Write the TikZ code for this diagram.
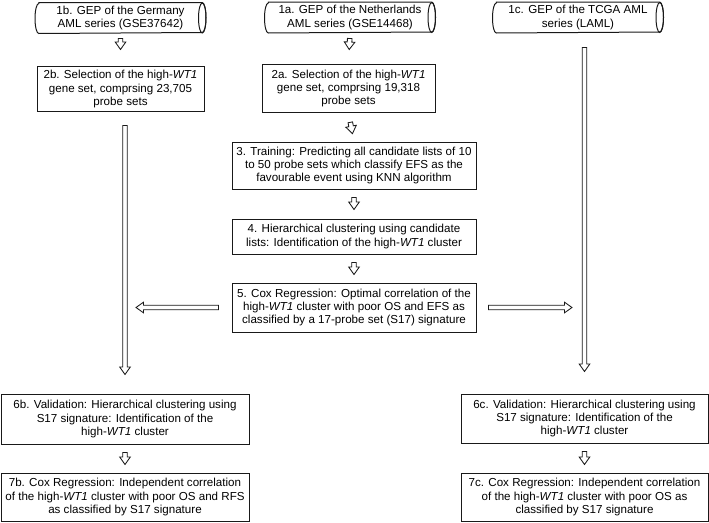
\documentclass[tikz,border=0pt]{standalone}
\usepackage{fontspec}
\setmainfont{Liberation Sans}
\usetikzlibrary{shapes.geometric,calc,positioning}

\begin{document}
\begin{tikzpicture}[
    x=1pt, y=-1pt,
    box/.style={rectangle, draw=black!90, line width=1pt, align=center, inner sep=2pt,
        font=\fontsize{11.6}{13.3}\selectfont},
    db/.style={box, draw=none, minimum width=170pt, minimum height=30pt},
    dbline/.style={draw=black!90, line width=1pt},
    hollow/.style 2 args={draw=black!90, line width=0.85pt, to path={
        let \p1=($(\tikztostart)!#1!(\tikztotarget)$),
            \p2=($(\tikztotarget)!#2!(\tikztostart)$),
            \p3=($(\p2)!7.5pt!(\p1)$) in
        ($(\p1)!2.3pt!90:(\p2)$) -- ($(\p3)!2.3pt!90:(\p2)$) -- ($(\p3)!5.3pt!90:(\p2)$)
        -- (\p2) -- ($(\p3)!5.3pt!-90:(\p2)$) -- ($(\p3)!2.3pt!-90:(\p2)$)
        -- ($(\p1)!2.3pt!-90:(\p2)$) -- cycle}},
    node distance=71pt
]
    \useasboundingbox (0,0) rectangle (709,522);

    % Data sets
    \node[db] (g1b) at (120.5,18) {1b. GEP of the Germany\\AML series (GSE37642)};
    \node[db] (g1a) at (350,17.5) {1a. GEP of the Netherlands\\AML series (GSE14468)};
    \node[db] (g1c) at (578,17.5) {1c. GEP of the TCGA AML\\series (LAML)};
    % cylinder outlines round the data set nodes
    \foreach \n in {g1b,g1a,g1c} {
        \draw[dbline] ([xshift=3.75pt]\n.north west) -- ([xshift=-3.75pt]\n.north east)
            arc[start angle=90, end angle=-90, x radius=3.75pt, y radius=15pt]
            -- ([xshift=3.75pt]\n.south west)
            arc[start angle=270, end angle=90, x radius=3.75pt, y radius=15pt] -- cycle;
        \draw[dbline] ([xshift=-3.75pt]\n.east) ellipse[x radius=3.75pt, y radius=15pt];
    }

    % Training on the Netherlands series
    \node[box, below of=g1b, minimum width=167pt, minimum height=45pt] (g2b)
        {2b. Selection of the high-\textit{WT1}\\gene set, comprsing 23,705\\probe sets};
    \node[box, below of=g1a, xshift=-1.5pt, minimum width=173pt, minimum height=48pt] (g2a)
        {2a. Selection of the high-\textit{WT1}\\gene set, comprsing 19,318\\probe sets};
    \node[box, minimum width=244pt, minimum height=47pt] (g3) at (354,165.5)
        {3. Training: Predicting all candidate lists of 10\\to 50 probe sets which classify EFS as the\\favourable event using KNN algorithm};
    \node[box, below of=g3, minimum width=244pt, minimum height=35pt] (g4)
        {4. Hierarchical clustering using candidate\\lists: Identification of the high-\textit{WT1} cluster};
    \node[box, below of=g4, minimum width=244pt, minimum height=49pt] (g5)
        {5. Cox Regression: Optimal correlation of the\\high-\textit{WT1} cluster with poor OS and EFS as\\classified by a 17-probe set (S17) signature};

    % Validation
    \node[box, minimum width=248pt, minimum height=50pt] (g6b) at (125,419)
        {6b. Validation: Hierarchical clustering using\\S17 signature: Identification of the\\high-\textit{WT1} cluster};
    \node[box, below of=g6b, node distance=78pt, minimum width=248pt, minimum height=48pt] (g7b)
        {7b. Cox Regression: Independent correlation\\of the high-\textit{WT1} cluster with poor OS and RFS\\as classified by S17 signature};
    \node[box, minimum width=247pt, minimum height=49pt] (g6c) at (584.5,418.5)
        {6c. Validation: Hierarchical clustering using\\S17 signature: Identification of the\\high-\textit{WT1} cluster};
    \node[box, below of=g6c, node distance=78.5pt, minimum width=247pt, minimum height=48pt] (g7c)
        {7c. Cox Regression: Independent correlation\\of the high-\textit{WT1} cluster with poor OS as\\classified by S17 signature};

    % Hollow arrows
    \draw[hollow={5pt}{16.5pt}] (g1b.south) to (g2b.north);
    \draw[hollow={5.5pt}{14.5pt}] (g1a.south) to (g2a.north);
    \draw[hollow={9.5pt}{8pt}] (g2a.south) to (g3.north);
    \draw[hollow={8pt}{9pt}] (g3.south) to (g4.north);
    \draw[hollow={8pt}{8pt}] (g4.south) to (g5.north);
    \draw[hollow={13.5pt}{19pt}] (g6b.north |- g2b.south) to (g6b.north);
    \draw[hollow={14.5pt}{22pt}] (g6c.north |- g1c.south) to (g6c.north);
    \draw[hollow={13pt}{11pt}] (g5.west) to (g5.west -| g6b.north);
    \draw[hollow={12pt}{12.5pt}] (g5.east) to (g5.east -| g6c.north);
    \draw[hollow={8pt}{8pt}] (g6b.south) to (g7b.north);
    \draw[hollow={8pt}{8pt}] (g6c.south) to (g7c.north);
\end{tikzpicture}
\end{document}
